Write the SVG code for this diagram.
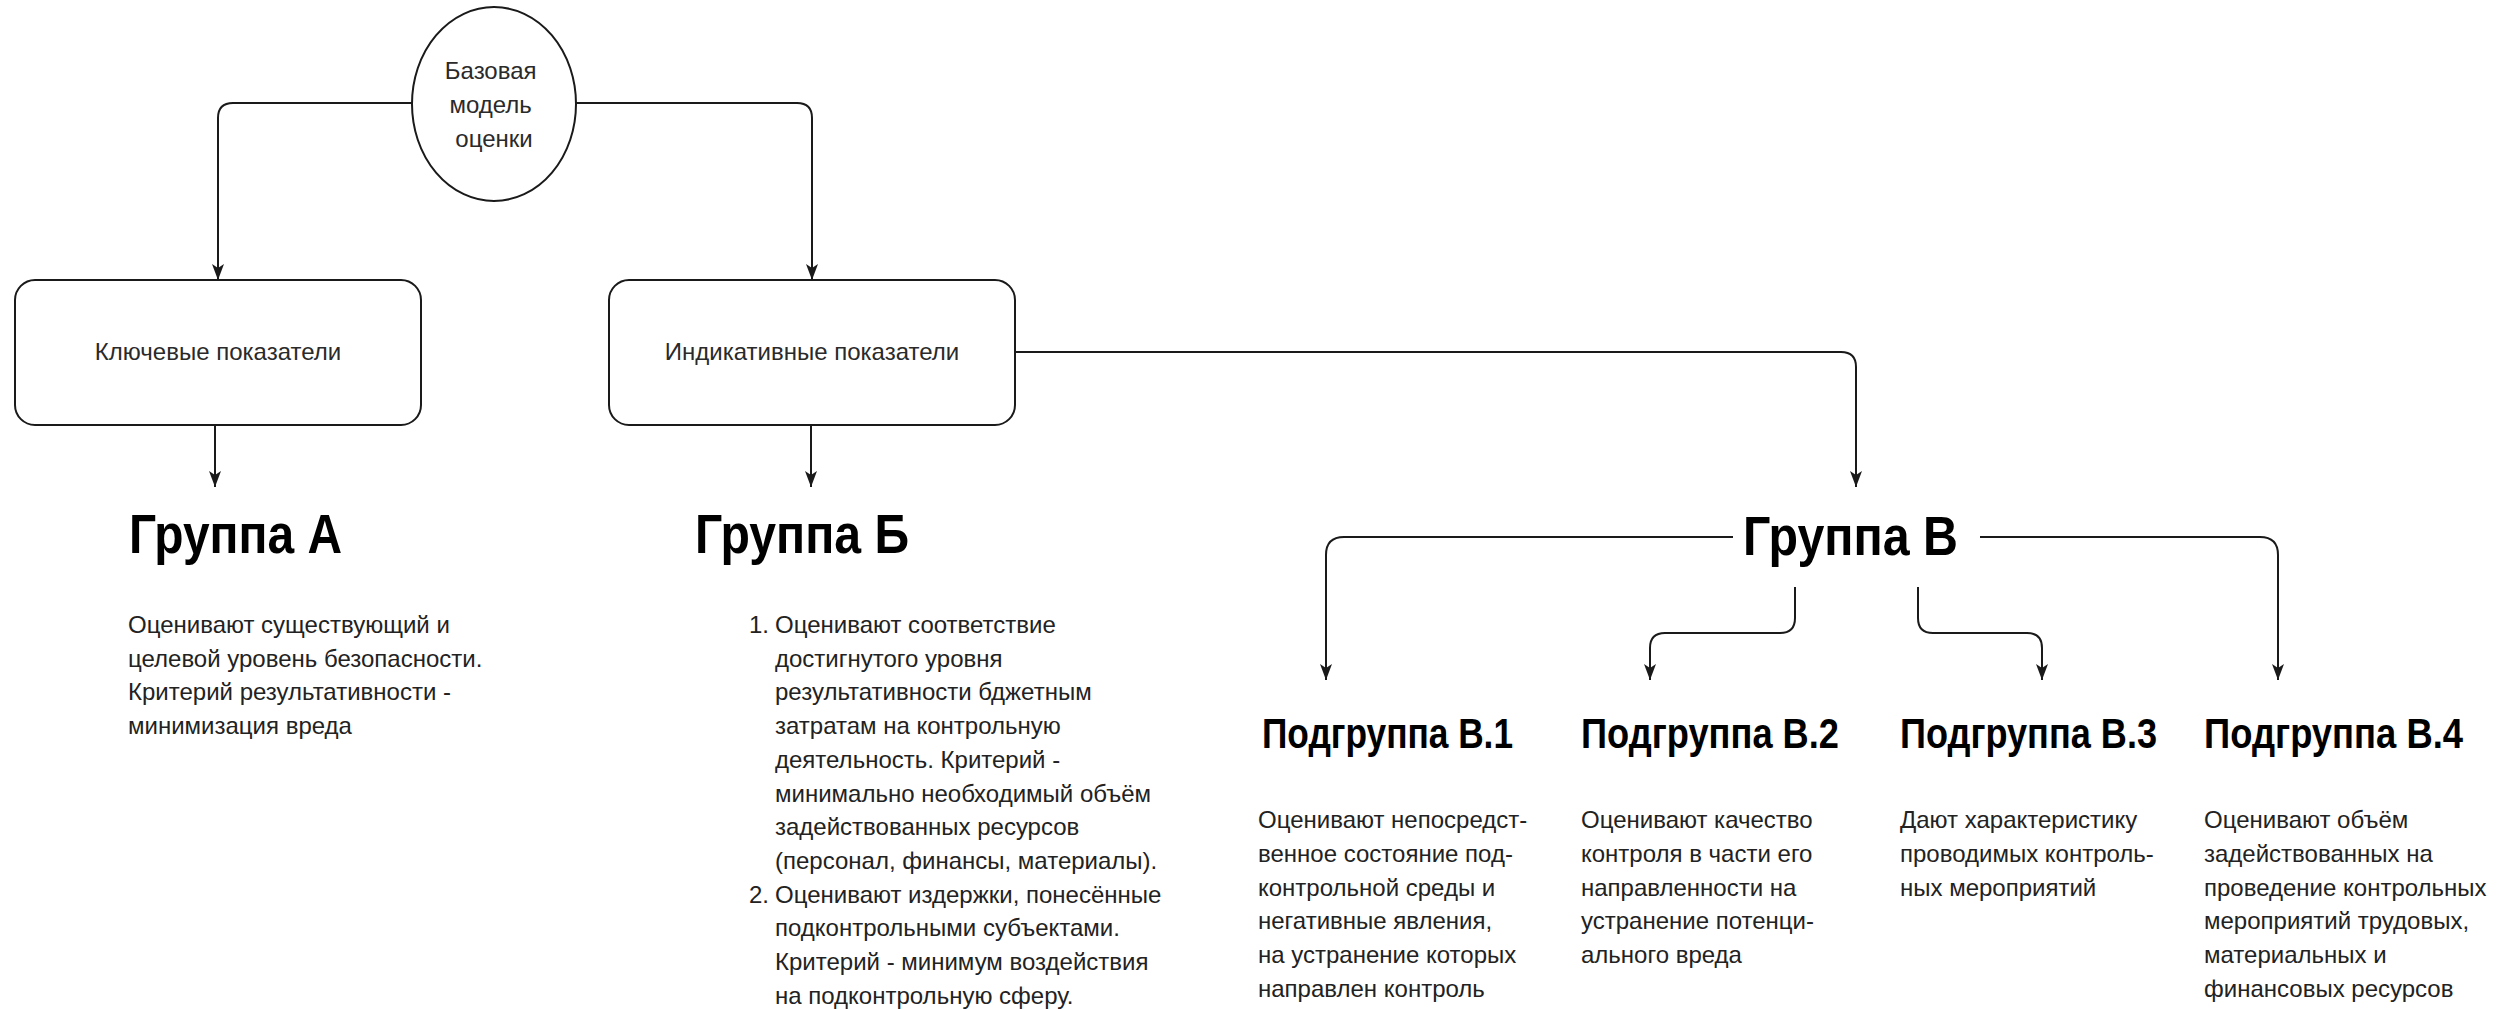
<svg xmlns="http://www.w3.org/2000/svg" width="2503" height="1009" viewBox="0 0 2503 1009">
<style>
  .shape { fill: #ffffff; stroke: #1a1a1a; stroke-width: 2; }
  .conn { fill: none; stroke: #1a1a1a; stroke-width: 2; marker-end: url(#arrow); }
  .lbl { font-family: "Liberation Sans", Arial, sans-serif; font-size: 24px; fill: #2a2a2a; }
  .body { font-family: "Liberation Sans", Arial, sans-serif; font-size: 24px; fill: #222222; }
  .h1 { font-family: "Liberation Sans", Arial, sans-serif; font-size: 56px; font-weight: bold; fill: #000000; }
  .h2 { font-family: "Liberation Sans", Arial, sans-serif; font-size: 42px; font-weight: bold; fill: #000000; }
</style>
<defs>
  <marker id="arrow" viewBox="0 0 16 12" refX="16" refY="6" markerWidth="16" markerHeight="12" markerUnits="userSpaceOnUse" orient="auto">
    <path d="M0,0 L16,6 L0,12 L4,6 Z" fill="#1a1a1a"/>
  </marker>
</defs>
<rect width="2503" height="1009" fill="#ffffff"/>

<g id="connectors">
  <path class="conn" d="M412,103 H233 Q218,103 218,118 V280"/>
  <path class="conn" d="M576,103 H797 Q812,103 812,118 V280"/>
  <path class="conn" d="M215,425 V487"/>
  <path class="conn" d="M811,425 V487"/>
  <path class="conn" d="M1015,352 H1841 Q1856,352 1856,367 V487"/>
  <path class="conn" d="M1733,537 H1344 Q1326,537 1326,555 V680"/>
  <path class="conn" d="M1795,587 V618 Q1795,633 1780,633 H1665 Q1650,633 1650,648 V680"/>
  <path class="conn" d="M1918,587 V618 Q1918,633 1933,633 H2027 Q2042,633 2042,648 V680"/>
  <path class="conn" d="M1980,537 H2260 Q2278,537 2278,555 V680"/>
</g>

<g id="node-base">
  <ellipse class="shape" cx="494" cy="104" rx="82" ry="97"/>
  <text class="lbl" text-anchor="middle">
    <tspan x="494" y="79">Базовая</tspan>
    <tspan x="494" y="113">модель</tspan>
    <tspan x="494" y="147">оценки</tspan>
  </text>
</g>

<g id="node-key">
  <rect class="shape" x="15" y="280" width="406" height="145" rx="20" ry="20"/>
  <text class="lbl" x="218" y="360" text-anchor="middle">Ключевые показатели</text>
</g>

<g id="node-ind">
  <rect class="shape" x="609" y="280" width="406" height="145" rx="20" ry="20"/>
  <text class="lbl" x="812" y="360" text-anchor="middle">Индикативные показатели</text>
</g>

<g id="node-group-a">
  <text class="h1" x="129" y="553" textLength="213" lengthAdjust="spacingAndGlyphs">Группа А</text>
  <text class="body">
    <tspan x="128" y="633">Оценивают существующий и</tspan>
    <tspan x="128" y="666.7">целевой уровень безопасности.</tspan>
    <tspan x="128" y="700.4">Критерий результативности -</tspan>
    <tspan x="128" y="734.1">минимизация вреда</tspan>
  </text>
</g>

<g id="node-group-b">
  <text class="h1" x="695" y="553" textLength="214" lengthAdjust="spacingAndGlyphs">Группа Б</text>
  <text class="body">
    <tspan x="749" y="633">1.</tspan>
    <tspan x="775" y="633">Оценивают соответствие</tspan>
    <tspan x="775" y="666.7">достигнутого уровня</tspan>
    <tspan x="775" y="700.4">результативности бджетным</tspan>
    <tspan x="775" y="734.1">затратам на контрольную</tspan>
    <tspan x="775" y="767.8">деятельность. Критерий -</tspan>
    <tspan x="775" y="801.5">минимально необходимый объём</tspan>
    <tspan x="775" y="835.2">задействованных ресурсов</tspan>
    <tspan x="775" y="868.9">(персонал, финансы, материалы).</tspan>
    <tspan x="749" y="902.6">2.</tspan>
    <tspan x="775" y="902.6">Оценивают издержки, понесённые</tspan>
    <tspan x="775" y="936.3">подконтрольными субъектами.</tspan>
    <tspan x="775" y="970">Критерий - минимум воздействия</tspan>
    <tspan x="775" y="1003.7">на подконтрольную сферу.</tspan>
  </text>
</g>

<g id="node-group-v">
  <text class="h1" x="1743" y="555" textLength="215" lengthAdjust="spacingAndGlyphs">Группа В</text>
</g>

<g id="node-v1">
  <text class="h2" x="1262" y="748" textLength="251" lengthAdjust="spacingAndGlyphs">Подгруппа В.1</text>
  <text class="body">
    <tspan x="1258" y="828">Оценивают непосредст-</tspan>
    <tspan x="1258" y="861.8">венное состояние под-</tspan>
    <tspan x="1258" y="895.6">контрольной среды и</tspan>
    <tspan x="1258" y="929.4">негативные явления,</tspan>
    <tspan x="1258" y="963.2">на устранение которых</tspan>
    <tspan x="1258" y="997">направлен контроль</tspan>
  </text>
</g>

<g id="node-v2">
  <text class="h2" x="1581" y="748" textLength="258" lengthAdjust="spacingAndGlyphs">Подгруппа В.2</text>
  <text class="body">
    <tspan x="1581" y="828">Оценивают качество</tspan>
    <tspan x="1581" y="861.8">контроля в части его</tspan>
    <tspan x="1581" y="895.6">направленности на</tspan>
    <tspan x="1581" y="929.4">устранение потенци-</tspan>
    <tspan x="1581" y="963.2">ального вреда</tspan>
  </text>
</g>

<g id="node-v3">
  <text class="h2" x="1900" y="748" textLength="257" lengthAdjust="spacingAndGlyphs">Подгруппа В.3</text>
  <text class="body">
    <tspan x="1900" y="828">Дают характеристику</tspan>
    <tspan x="1900" y="861.8">проводимых контроль-</tspan>
    <tspan x="1900" y="895.6">ных мероприятий</tspan>
  </text>
</g>

<g id="node-v4">
  <text class="h2" x="2204" y="748" textLength="259" lengthAdjust="spacingAndGlyphs">Подгруппа В.4</text>
  <text class="body">
    <tspan x="2204" y="828">Оценивают объём</tspan>
    <tspan x="2204" y="861.8">задействованных на</tspan>
    <tspan x="2204" y="895.6">проведение контрольных</tspan>
    <tspan x="2204" y="929.4">мероприятий трудовых,</tspan>
    <tspan x="2204" y="963.2">материальных и</tspan>
    <tspan x="2204" y="997">финансовых ресурсов</tspan>
  </text>
</g>
</svg>
